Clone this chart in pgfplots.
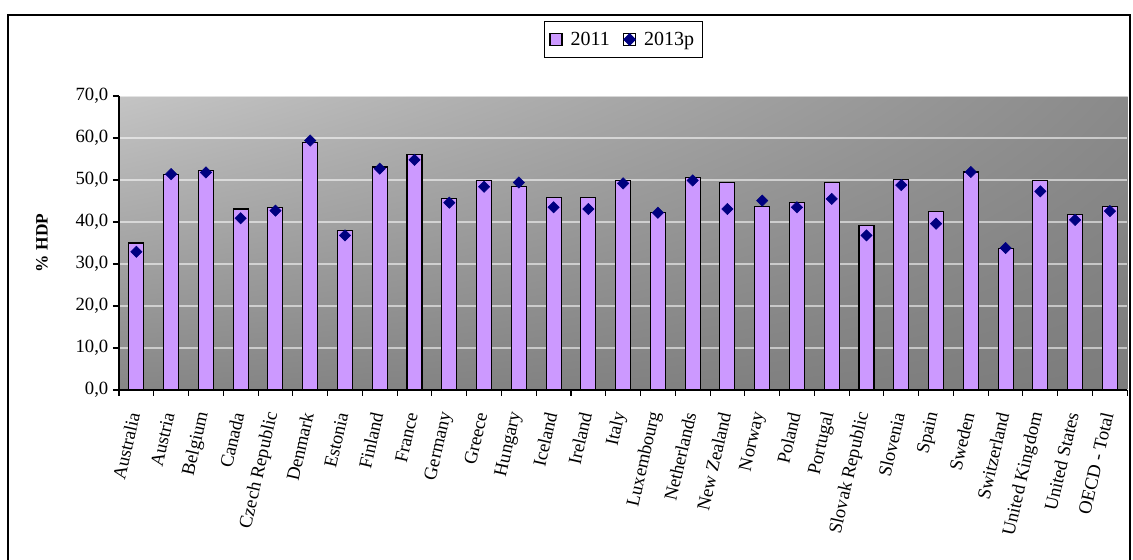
\documentclass[border=0pt]{standalone}
\usepackage{fontspec}
\setmainfont{Liberation Serif}
\usepackage{pgfplots}
\pgfplotsset{compat=1.18}
\usepackage{pgfplotstable}
\usetikzlibrary{shadings}
\definecolor{barfill}{HTML}{CC99FF}
\definecolor{marknavy}{HTML}{000080}
\definecolor{bgUL}{HTML}{C4C4C4}
\definecolor{bgUR}{HTML}{8A8A8A}
\definecolor{bgLL}{HTML}{868686}
\definecolor{bgLR}{HTML}{7C7C7C}

\pgfplotstableread{
x a b
0 35.0 32.9
1 51.4 51.4
2 52.2 51.8
3 43.1 40.9
4 43.5 42.7
5 59.0 59.4
6 38.0 36.8
7 53.1 52.7
8 56.1 54.8
9 45.6 44.6
10 49.8 48.4
11 48.4 49.4
12 45.9 43.5
13 45.9 43.1
14 49.8 49.2
15 42.2 42.2
16 50.6 49.9
17 49.3 43.1
18 43.8 45.1
19 44.6 43.5
20 49.3 45.5
21 39.2 36.8
22 50.2 48.8
23 42.5 39.6
24 51.9 51.9
25 33.8 33.8
26 49.8 47.3
27 41.7 40.5
28 43.8 42.6
}\datatable

\begin{document}
\begin{tikzpicture}
\useasboundingbox (-89.25pt,-127.5pt) rectangle (760.5pt,292.5pt);
\fill[white] (-89.25pt,-127.5pt) rectangle (760.5pt,292.5pt);
\draw[line width=1.5pt] (-83.6pt,-140pt) rectangle (758.6pt,281.25pt);
\begin{axis}[
  at={(0pt,0pt)}, anchor=south west,
  width=756.2pt, height=220.5pt, scale only axis,
  xmin=-0.5, xmax=28.5, ymin=0, ymax=70,
  ytick={0,10,...,70},
  xtick={-0.5,0.5,...,28.5},
  x tick label as interval,
  xticklabels={Australia,Austria,Belgium,Canada,Czech Republic,Denmark,Estonia,Finland,France,Germany,Greece,Hungary,Iceland,Ireland,Italy,Luxembourg,Netherlands,New Zealand,Norway,Poland,Portugal,Slovak Republic,Slovenia,Spain,Sweden,Switzerland,United Kingdom,United States,OECD - Total},
  axis x line*=bottom, axis y line*=left,
  axis line style={-, black, line width=0.8pt},
  tick align=outside,
  major tick length=4.5pt,
  tick style={black, line width=0.8pt},
  ymajorgrids,
  grid style={white, opacity=0.55, line width=0.8pt},
  axis background/.style={shade, upper left=bgUL, upper right=bgUR, lower left=bgLL, lower right=bgLR},
  /pgf/number format/assume math mode=true,
  yticklabel style={/pgf/number format/.cd, fixed, fixed zerofill, precision=1, use comma},
  tick label style={font=\fontsize{14}{16}\selectfont},
  xticklabel style={yshift=-9pt, xshift=-1pt, rotate=77, anchor=east},
  ylabel={\bfseries\% HDP},
  ylabel style={at={(axis description cs:-0.0764,0.5)}, anchor=center, font=\fontsize{13}{15}\selectfont},
  legend style={at={(0.5,1.128)}, anchor=south, legend columns=2, draw=black, line width=0.8pt,
    font=\fontsize{15}{17}\selectfont, inner xsep=4pt, inner ysep=6pt,
    /tikz/every odd column/.append style={column sep=4pt},
    /tikz/every even column/.append style={column sep=8pt}},
]
\addplot[ybar, bar width=11.25pt, bar shift=0pt, fill=barfill, draw=black, line width=0.8pt,
  legend image code/.code={\draw[fill=barfill, draw=black, line width=0.8pt] (0pt,-4.5pt) rectangle (9pt,4.5pt);}]
  table[x=x, y=a] {\datatable};
\addlegendentry{2011}
\addplot[only marks, mark=square*, mark size=3pt, mark options={rotate=45, fill=marknavy, draw=marknavy},
  legend image code/.code={\path (0pt,-4.5pt) rectangle (9pt,4.5pt); \draw[mark=square*, mark size=3pt, mark options={rotate=45, fill=marknavy, draw=marknavy}] plot coordinates {(4.5pt,0pt)};}]
  table[x=x, y=b] {\datatable};
\addlegendentry{2013p}
\end{axis}
\end{tikzpicture}
\end{document}
